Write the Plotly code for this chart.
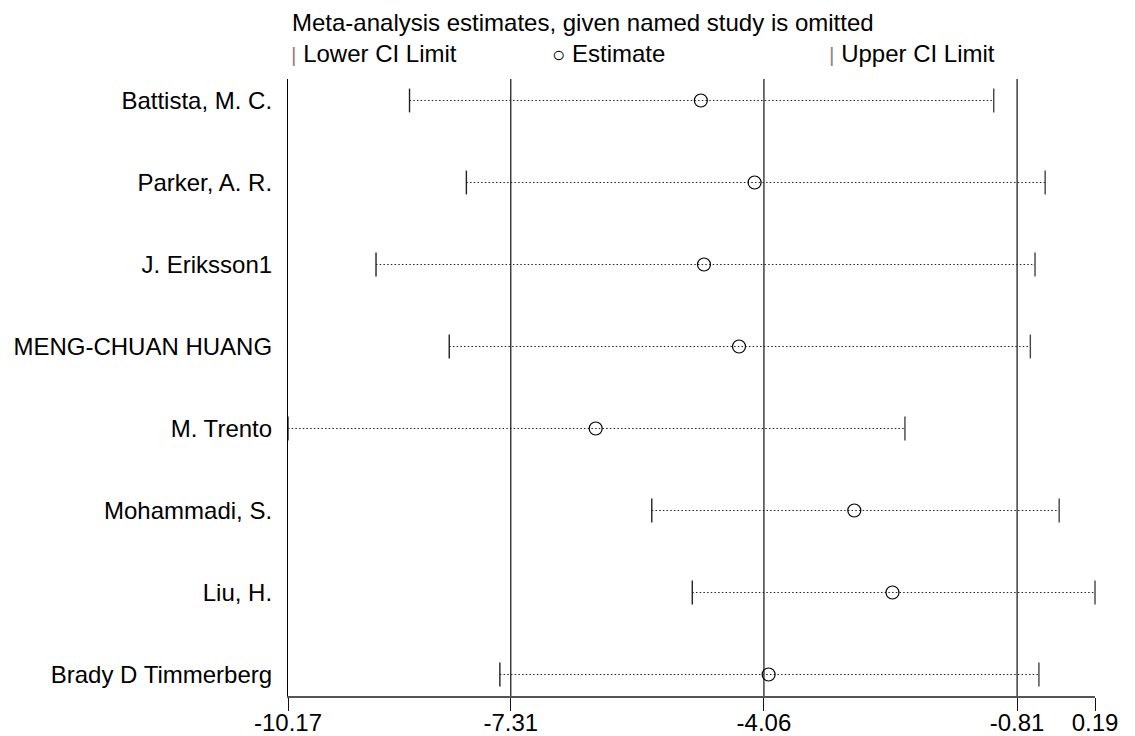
import plotly.graph_objects as go

# Leave-one-out meta-analysis: estimate and CI when each study is omitted
studies = [
    "Battista, M. C.",
    "Parker, A. R.",
    "J. Eriksson1",
    "MENG-CHUAN HUANG",
    "M. Trento",
    "Mohammadi, S.",
    "Liu, H.",
    "Brady D Timmerberg",
]
estimate = [-4.87, -4.18, -4.83, -4.38, -6.22, -2.90, -2.41, -4.00]
lower_ci = [-8.61, -7.88, -9.04, -8.10, -10.17, -5.50, -4.98, -7.45]
upper_ci = [-1.11, -0.45, -0.58, -0.64, -2.25, -0.27, 0.19, -0.53]

# Combined estimate with its confidence limits (reference lines)
overall_lower = -7.31
overall_est = -4.06
overall_upper = -0.81

axis_min = min(lower_ci)
axis_max = max(upper_ci)
tick_vals = [axis_min, overall_lower, overall_est, overall_upper, axis_max]
tick_text = [f"{v:.2f}" for v in tick_vals]

rows = list(range(1, len(studies) + 1))
FONT = "Liberation Sans, Arial, sans-serif"
INK = "#000000"

fig = go.Figure()

# dotted CI spans
for r, lo, hi in zip(rows, lower_ci, upper_ci):
    fig.add_trace(go.Scatter(
        x=[lo, hi], y=[r, r], mode="lines",
        line=dict(color="#222222", width=1, dash="1.5px,2.2px"),
        hoverinfo="skip", showlegend=False, cliponaxis=False,
    ))

# lower and upper limit ticks
fig.add_trace(go.Scatter(
    x=lower_ci, y=rows, mode="markers", name="Lower CI Limit",
    marker=dict(symbol="line-ns", size=17, line=dict(color="#222222", width=1.4)),
    showlegend=False, cliponaxis=False,
))
fig.add_trace(go.Scatter(
    x=upper_ci, y=rows, mode="markers", name="Upper CI Limit",
    marker=dict(symbol="line-ns", size=17, line=dict(color="#444444", width=1.4)),
    showlegend=False, cliponaxis=False,
))
# point estimates
fig.add_trace(go.Scatter(
    x=estimate, y=rows, mode="markers", name="Estimate",
    marker=dict(symbol="circle-open", size=13, color=INK, line=dict(color=INK, width=1.2)),
    showlegend=False, cliponaxis=False,
))

# vertical reference lines at the combined estimate and its limits
for v in (overall_lower, overall_est, overall_upper):
    fig.add_shape(type="line", xref="x", yref="paper", x0=v, x1=v, y0=0, y1=1,
                  line=dict(color="#111111", width=1.2), layer="below")

# plot area spans pixels 288..1095 horizontally, 79..696 vertically
def px_to_paper(px):
    return (px - 288) / 807.0

def py_to_paper(py):
    return 1 + (79 - py) / 617.0

fig.add_annotation(
    text="Meta-analysis estimates, given named study is omitted",
    xref="paper", yref="paper", x=px_to_paper(290), y=py_to_paper(22),
    xanchor="left", yanchor="middle", showarrow=False,
    font=dict(family=FONT, size=24, color=INK),
)
legend_items = [
    (289, "<span style='color:#888888;font-size:21px'>|</span> Lower CI Limit"),
    (550, "<span style='font-size:22px'>○</span> Estimate"),
    (827, "<span style='color:#888888;font-size:21px'>|</span> Upper CI Limit"),
]
for px, label in legend_items:
    fig.add_annotation(
        text=label, xref="paper", yref="paper", x=px_to_paper(px), y=py_to_paper(54),
        xanchor="left", yanchor="middle", showarrow=False,
        font=dict(family=FONT, size=24, color=INK),
    )

fig.update_layout(
    width=1135, height=736,
    margin=dict(l=288, r=40, t=79, b=40, autoexpand=False),
    paper_bgcolor="white", plot_bgcolor="white",
    font=dict(family=FONT, size=24, color=INK),
    showlegend=False,
    xaxis=dict(
        range=[axis_min, axis_max], tickvals=tick_vals, ticktext=tick_text,
        showgrid=False, zeroline=False, showline=True, linecolor="#555555", linewidth=1.5,
        ticks="outside", ticklen=13, tickwidth=1.2, tickcolor="#111111",
        ticklabelstandoff=-9,
        tickfont=dict(family=FONT, size=24, color=INK), automargin=False,
    ),
    yaxis=dict(
        range=[8.262, 0.738], tickvals=rows, ticktext=studies,
        showgrid=False, zeroline=False, showline=True, linecolor=INK, linewidth=1.2,
        ticks="", ticklabelstandoff=10, automargin=False,
        tickfont=dict(family=FONT, size=24, color=INK),
    ),
)

fig.write_html("out.html")
